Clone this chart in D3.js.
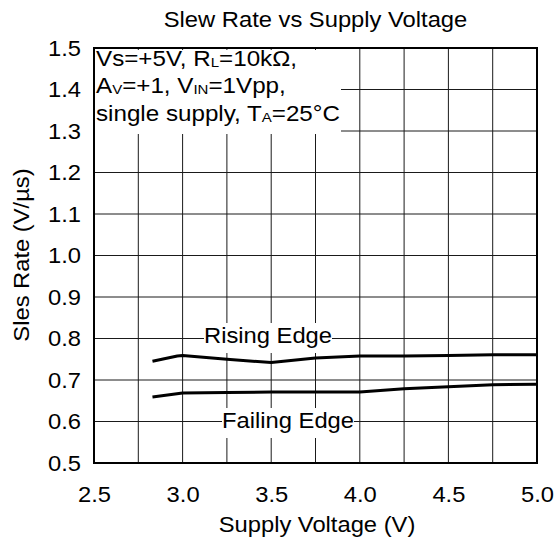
<!DOCTYPE html>
<html>
<head>
<meta charset="utf-8">
<script src="https://cdn.jsdelivr.net/npm/d3@7/dist/d3.min.js"></script>
<style>
  html, body { margin: 0; padding: 0; background: #fff; }
  svg { display: block; }
  text { font-family: "Liberation Sans", Arial, Helvetica, sans-serif; fill: #000; }
</style>
</head>
<body>
<script>
// ---- data ----
const titleText = "Slew Rate vs Supply Voltage";
const xTitle = "Supply Voltage (V)";
const yTitle = "Sles Rate (V/\u00b5s)";
const xTickValues = [2.5, 3.0, 3.5, 4.0, 4.5, 5.0];
const xGridValues = [2.75, 3.0, 3.25, 3.5, 3.75, 4.0, 4.25, 4.5, 4.75];
const yTickValues = [0.5, 0.6, 0.7, 0.8, 0.9, 1.0, 1.1, 1.2, 1.3, 1.4, 1.5];
const risingX = [2.83, 2.97, 3.0, 3.25, 3.5, 3.75, 4.0, 4.25, 4.5, 4.75, 5.0];
const risingY = [0.745, 0.758, 0.759, 0.750, 0.742, 0.753, 0.758, 0.758, 0.759, 0.761, 0.761];
const fallingX = [2.83, 3.0, 3.25, 3.5, 3.75, 4.0, 4.25, 4.5, 4.75, 5.0];
const fallingY = [0.659, 0.6685, 0.670, 0.671, 0.671, 0.671, 0.679, 0.684, 0.6885, 0.690];
const seriesLabels = ["Rising Edge", "Failing Edge"];
// annotation lines: [text, isSubscript]
const noteLine1 = [["Vs=+5V, R", false], ["L", true], ["=10k\u03a9,", false]];
const noteLine2 = [["A", false], ["V", true], ["=+1, V", false], ["IN", true], ["=1Vpp,", false]];
const noteLine3 = [["single supply, T", false], ["A", true], ["=25\u00b0C", false]];

// ---- layout ----
const W = 555, H = 542;
const m = { left: 94, right: 18, top: 48, bottom: 79 };
const iw = W - m.left - m.right, ih = H - m.top - m.bottom;
const FS = 22, SX = 1.08;

const svg = d3.select("body").append("svg").attr("width", W).attr("height", H);
const x = d3.scaleLinear().domain([2.5, 5.0]).range([m.left, m.left + iw]);
const y = d3.scaleLinear().domain([0.5, 1.5]).range([m.top + ih, m.top]);

// grid
const grid = svg.append("g").attr("stroke", "#1a1a1a").attr("stroke-width", 1);
grid.selectAll("line.v").data(xGridValues).join("line").attr("class", "v")
  .attr("x1", d => x(d)).attr("x2", d => x(d)).attr("y1", m.top).attr("y2", m.top + ih);
grid.selectAll("line.h").data(yTickValues.slice(1, -1)).join("line").attr("class", "h")
  .attr("x1", m.left).attr("x2", m.left + iw).attr("y1", d => y(d)).attr("y2", d => y(d));

// annotation white box
svg.append("rect").attr("x", m.left + 1).attr("y", m.top + 2).attr("width", 246).attr("height", 84).attr("fill", "#fff");

// series lines
const line = d3.line().x(d => x(d[0])).y(d => y(d[1]));
const risingData = risingX.map((v, i) => [v, risingY[i]]);
const fallingData = fallingX.map((v, i) => [v, fallingY[i]]);
svg.append("path").datum(risingData).attr("d", line).attr("fill", "none").attr("stroke", "#000").attr("stroke-width", 3).attr("stroke-linejoin", "round");
svg.append("path").datum(fallingData).attr("d", line).attr("fill", "none").attr("stroke", "#000").attr("stroke-width", 3).attr("stroke-linejoin", "round");

// series labels with white background
function boxedLabel(cx, baseline, txt) {
  const g = svg.append("g").attr("transform", `translate(${cx},${baseline}) scale(${SX},1)`);
  const r = g.append("rect").attr("fill", "#fff");
  const t = g.append("text").attr("text-anchor", "middle").attr("font-size", FS).text(txt);
  const bb = t.node().getBBox();
  r.attr("x", bb.x).attr("width", bb.width).attr("y", -20).attr("height", 30);
}
boxedLabel(268, 343, seriesLabels[0]);
boxedLabel(288, 428, seriesLabels[1]);

// plot frame
svg.append("rect").attr("x", m.left).attr("y", m.top).attr("width", iw).attr("height", ih)
  .attr("fill", "none").attr("stroke", "#000").attr("stroke-width", 2);

// annotation text
const note = svg.append("g").attr("transform", `translate(96,0) scale(1.1,1)`);
[[noteLine1, 65.7], [noteLine2, 93.3], [noteLine3, 121]].forEach(([parts, by]) => {
  const t = note.append("text").attr("x", 0).attr("y", by).attr("font-size", FS);
  parts.forEach(([s, sub]) => {
    const ts = t.append("tspan").text(s);
    if (sub) ts.attr("font-size", FS * 0.62).attr("dy", 1);
    else ts.attr("dy", 0);
  });
  // reset baseline after subscripts
  let shift = 0;
  t.selectAll("tspan").each(function(d, i) {
    const n = d3.select(this);
    const isSub = parts[i][1];
    const target = isSub ? 1 : 0;
    n.attr("dy", target - shift);
    shift = target;
  });
});

// axes (labels only)
const xAxis = d3.axisBottom(x).tickValues(xTickValues).tickFormat(d3.format(".1f")).tickSize(0).tickPadding(23);
const gx = svg.append("g").attr("transform", `translate(0,${m.top + ih})`).call(xAxis);
gx.select(".domain").remove();
gx.selectAll("text").attr("font-size", FS).attr("transform", `scale(${SX},1)`)
  .attr("x", function(d) { return 0; });

const yAxis = d3.axisLeft(y).tickValues(yTickValues).tickFormat(d3.format(".1f")).tickSize(0).tickPadding(12);
const gy = svg.append("g").attr("transform", `translate(${m.left},0)`).call(yAxis);
gy.select(".domain").remove();
gy.selectAll("text").attr("font-size", FS).attr("transform", `scale(${SX},1)`);
svg.selectAll(".tick text").style("font-family", '"Liberation Sans", Arial, sans-serif').attr("fill", "#000");

// titles
svg.append("text").attr("transform", `translate(315.5,27) scale(${SX},1)`).attr("text-anchor", "middle").attr("font-size", FS).text(titleText);
svg.append("text").attr("transform", `translate(317,532) scale(${SX},1)`).attr("text-anchor", "middle").attr("font-size", FS).text(xTitle);
svg.append("text").attr("transform", `translate(29,255) rotate(-90) scale(${SX},1)`).attr("text-anchor", "middle").attr("font-size", FS).text(yTitle);
</script>
</body>
</html>
